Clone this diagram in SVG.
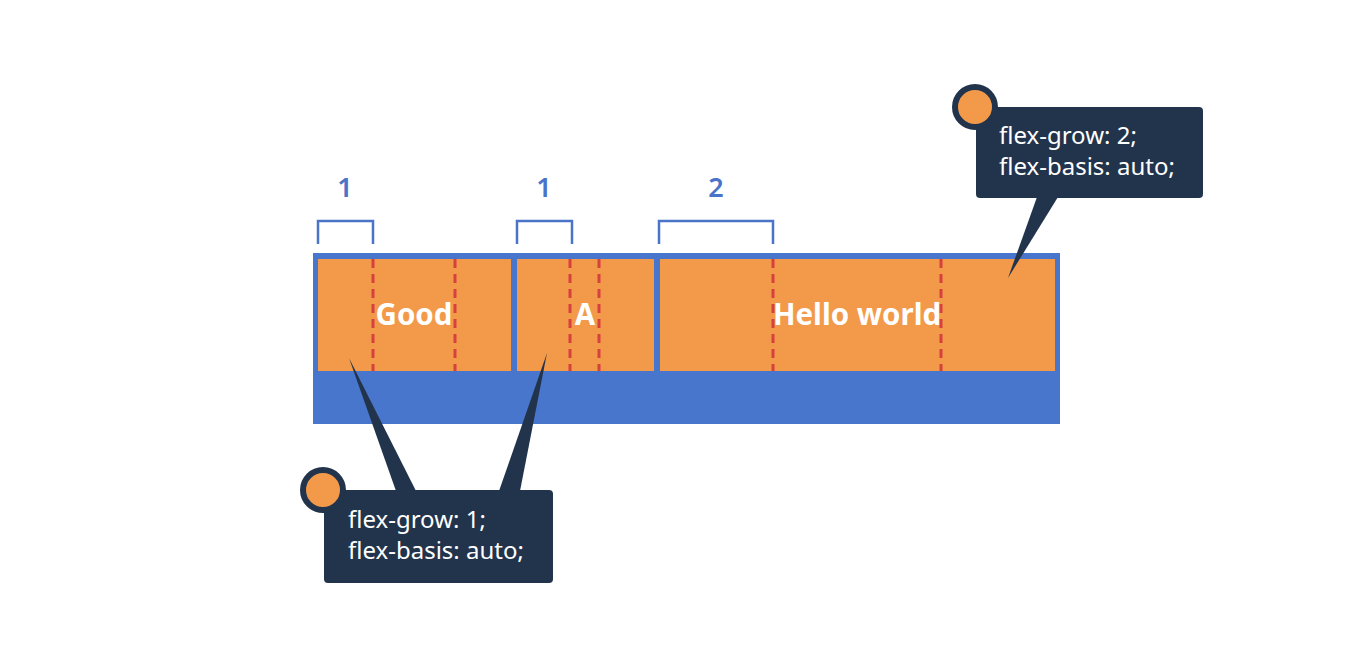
<svg xmlns="http://www.w3.org/2000/svg" width="1358" height="666" viewBox="0 0 1358 666">
<style>
.item{fill:#f39a4a}
.dash{stroke:#d6403e;stroke-width:3;stroke-dasharray:9 6;fill:none}
.brk{stroke:#4a74c8;stroke-width:2.5;fill:none}
.num{font-family:"Noto Sans","Liberation Sans",sans-serif;font-size:27px;fill:#4a74c8;text-anchor:middle;font-weight:600}
.lbl{font-family:"Noto Sans","Liberation Sans",sans-serif;font-size:29.5px;font-weight:bold;fill:#ffffff;text-anchor:middle}
.box{fill:#22344c}
.code{font-family:"Noto Sans","Liberation Sans",sans-serif;font-size:24px;fill:#ffffff}
.dot{fill:#f39a4a;stroke:#22344c;stroke-width:6}
</style>
<rect width="1358" height="666" fill="#ffffff"/>
<g id="container">
<rect x="313" y="253" width="747" height="171" fill="#4876cc"/>
</g>
<g id="item-good">
<rect class="item" x="318" y="259" width="193" height="112"/>
<line class="dash" x1="373" y1="259" x2="373" y2="371"/>
<line class="dash" x1="455" y1="259" x2="455" y2="371"/>
<text class="lbl" x="414" y="325">Good</text>
</g>
<g id="item-a">
<rect class="item" x="517" y="259" width="137" height="112"/>
<line class="dash" x1="570" y1="259" x2="570" y2="371"/>
<line class="dash" x1="599" y1="259" x2="599" y2="371"/>
<text class="lbl" x="585" y="325">A</text>
</g>
<g id="item-hello">
<rect class="item" x="660" y="259" width="395" height="112"/>
<line class="dash" x1="773" y1="259" x2="773" y2="371"/>
<line class="dash" x1="941" y1="259" x2="941" y2="371"/>
<text class="lbl" x="857" y="325">Hello world</text>
</g>
<g id="brackets">
<path class="brk" d="M318,244 V221 H373 V244"/>
<text class="num" x="345" y="197">1</text>
<path class="brk" d="M517,244 V221 H572 V244"/>
<text class="num" x="544" y="197">1</text>
<path class="brk" d="M659,244 V221 H773 V244"/>
<text class="num" x="716" y="197">2</text>
</g>
<g id="connectors">
<polygon class="box" points="349,358 396,491 416,491"/>
<polygon class="box" points="547,353 499,491 520,491"/>
<polygon class="box" points="1008,278 1037,197 1058,197"/>
</g>
<g id="callout-top">
<rect class="box" x="976" y="107" width="227" height="91" rx="4"/>
<circle class="dot" cx="975" cy="107" r="20"/>
<text class="code" x="999" y="144">flex-grow: 2;</text>
<text class="code" x="999" y="175">flex-basis: auto;</text>
</g>
<g id="callout-bottom">
<rect class="box" x="324" y="490" width="229" height="93" rx="4"/>
<circle class="dot" cx="323" cy="490" r="20"/>
<text class="code" x="348" y="528">flex-grow: 1;</text>
<text class="code" x="348" y="559">flex-basis: auto;</text>
</g>
</svg>
